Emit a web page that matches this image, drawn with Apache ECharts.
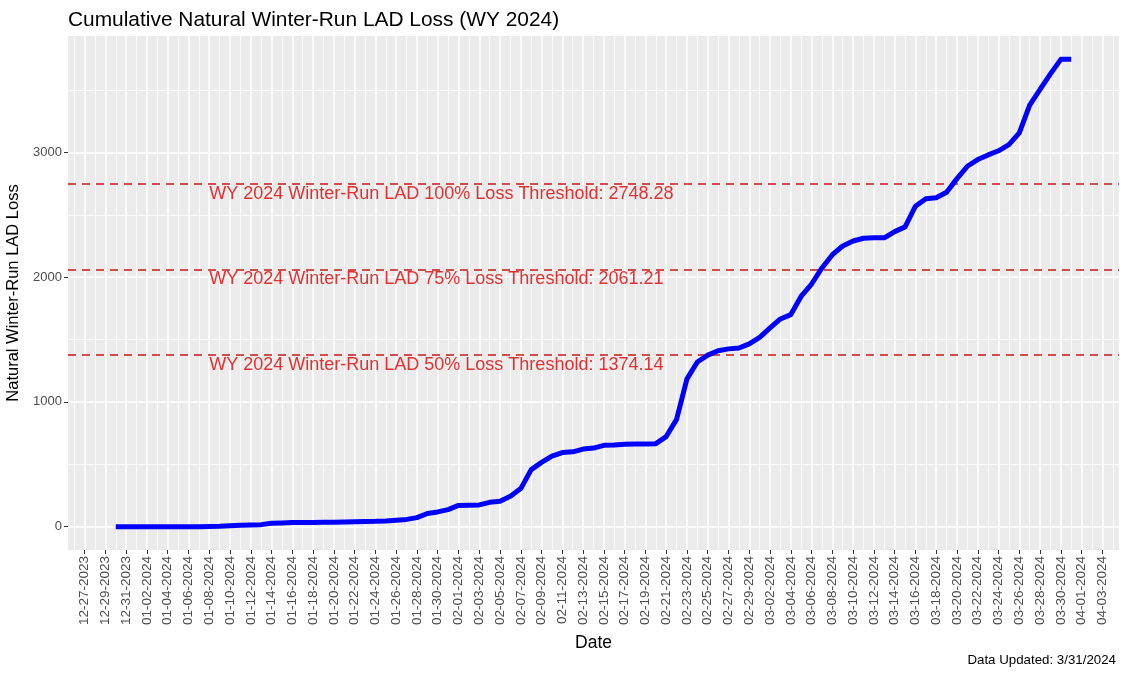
<!DOCTYPE html>
<html>
<head>
<meta charset="utf-8">
<script src="https://cdn.jsdelivr.net/npm/echarts@6/dist/echarts.min.js"></script>
<style>
html,body{margin:0;padding:0;background:#fff;}
#chart{width:1125px;height:673px;}
</style>
</head>
<body>
<div id="chart"></div>
<script>
// ---- data ----
const dates = [
  '12-30-2023','12-31-2023',
  '01-01-2024','01-02-2024','01-03-2024','01-04-2024','01-05-2024','01-06-2024','01-07-2024','01-08-2024','01-09-2024','01-10-2024',
  '01-11-2024','01-12-2024','01-13-2024','01-14-2024','01-15-2024','01-16-2024','01-17-2024','01-18-2024','01-19-2024','01-20-2024',
  '01-21-2024','01-22-2024','01-23-2024','01-24-2024','01-25-2024','01-26-2024','01-27-2024','01-28-2024','01-29-2024','01-30-2024','01-31-2024',
  '02-01-2024','02-02-2024','02-03-2024','02-04-2024','02-05-2024','02-06-2024','02-07-2024','02-08-2024','02-09-2024','02-10-2024',
  '02-11-2024','02-12-2024','02-13-2024','02-14-2024','02-15-2024','02-16-2024','02-17-2024','02-18-2024','02-19-2024','02-20-2024',
  '02-21-2024','02-22-2024','02-23-2024','02-24-2024','02-25-2024','02-26-2024','02-27-2024','02-28-2024','02-29-2024',
  '03-01-2024','03-02-2024','03-03-2024','03-04-2024','03-05-2024','03-06-2024','03-07-2024','03-08-2024','03-09-2024','03-10-2024',
  '03-11-2024','03-12-2024','03-13-2024','03-14-2024','03-15-2024','03-16-2024','03-17-2024','03-18-2024','03-19-2024','03-20-2024',
  '03-21-2024','03-22-2024','03-23-2024','03-24-2024','03-25-2024','03-26-2024','03-27-2024','03-28-2024','03-29-2024','03-30-2024','03-31-2024'
];
const cumulativeLoss = [
  0,0,
  0,0,0,0,0,0,0,2,3,8,
  12,14,16,27,30,33,34,34,35,36,
  38,40,42,43,46,52,58,72,105,118,136,
  170,172,174,195,203,243,305,457,515,565,
  594,600,622,630,652,655,660,663,663,665,
  722,860,1185,1320,1375,1410,1425,1432,1465,
  1518,1593,1665,1700,1847,1945,2074,2180,2250,2290,
  2312,2315,2315,2365,2403,2569,2628,2636,2681,2790,
  2889,2943,2980,3013,3063,3157,3380,3505,3630,3746,3746
];
const thresholdLabels = ['100%','75%','50%'];
const thresholdValues = [2748.28, 2061.21, 1374.14];
const thresholdLabelDate = '01-08-2024';
const xTickStart = '12-27-2023';
const xTickEnd = '04-03-2024';
const yTicks = [0, 1000, 2000, 3000];
const yMinorTicks = [500, 1500, 2500, 3500];

// ---- helpers ----
function parseDate(s){ const p = s.split('-'); return Date.UTC(+p[2], +p[0]-1, +p[1]); }
const DAY = 86400000;
const origin = parseDate(xTickStart);
function toDay(s){ return Math.round((parseDate(s) - origin) / DAY); }
function fmtDay(d){
  const t = new Date(origin + d*DAY);
  const mm = String(t.getUTCMonth()+1).padStart(2,'0');
  const dd = String(t.getUTCDate()).padStart(2,'0');
  return mm + '-' + dd + '-' + t.getUTCFullYear();
}
const seriesData = dates.map((s,i)=>[toDay(s), cumulativeLoss[i]]);
const xFirst = seriesData[0][0], xLast = seriesData[seriesData.length-1][0];
const xPad = (xLast - xFirst) * 0.05;
const yMaxData = Math.max(...cumulativeLoss);
const yPad = yMaxData * 0.05;
const lastTick = toDay(xTickEnd);
const xMajor = [], xMinor = [];
for (let d = 0; d <= lastTick; d += 2) xMajor.push(d);
for (let d = -1; d <= lastTick + 1; d += 2) if (d > xFirst - xPad && d < xLast + xPad) xMinor.push(d);

const FONT = 'Liberation Sans, Arial, sans-serif';
const grid = {left: 68, top: 36, right: 6, bottom: 123, show: true, backgroundColor: '#EBEBEB',
              borderWidth: 0, containLabel: false, outerBoundsMode: 'none'};
const xMin = xFirst - xPad, xMax = xLast + xPad;
const yMin = -yPad, yMax = yMaxData + yPad;

const labelDay = toDay(thresholdLabelDate);
const thresholdTextSeries = {
  type: 'scatter', symbolSize: 0, silent: true, z: 4,
  xAxisIndex: 0, yAxisIndex: 0,
  data: thresholdValues.map((v,i)=>({
    value: [labelDay, v],
    label: {
      show: true, position: 'inside', align: 'left', verticalAlign: 'top', offset: [0, 1],
      formatter: 'WY 2024 Winter-Run LAD ' + thresholdLabels[i] + ' Loss Threshold: ' + v.toFixed(2),
      color: '#E00000', fontSize: 18, fontFamily: FONT
    }
  }))
};

const option = {
  animation: false,
  textStyle: {fontFamily: FONT},
  title: [
    {text: 'Cumulative Natural Winter-Run LAD Loss (WY 2024)', left: 63, top: 5,
     textStyle: {fontSize: 20.9, fontWeight: 'normal', color: '#000', fontFamily: FONT}},
    {text: 'Data Updated: 3/31/2024', right: 4, bottom: 1,
     textStyle: {fontSize: 13.3, fontWeight: 'normal', color: '#000', fontFamily: FONT}}
  ],
  grid: grid,
  xAxis: [
    {
      type: 'value', min: xMin, max: xMax,
      name: 'Date', nameLocation: 'middle', nameGap: 84,
      nameTextStyle: {fontSize: 17.5, color: '#000', fontFamily: FONT},
      axisLine: {show: false, onZero: false},
      axisTick: {show: true, length: 4, customValues: xMajor, lineStyle: {color: '#333', width: 1}},
      axisLabel: {show: true, rotate: 90, margin: 6, customValues: xMajor, color: '#4D4D4D', fontSize: 13.5,
                  fontFamily: FONT, formatter: v => fmtDay(v)},
      splitLine: {show: true, lineStyle: {color: '#FFFFFF', width: 1.6}}
    },
    {
      type: 'value', min: xMin, max: xMax, position: 'bottom',
      axisLine: {show: false, onZero: false},
      axisTick: {show: false, customValues: xMinor},
      axisLabel: {show: false, customValues: xMinor},
      splitLine: {show: true, lineStyle: {color: '#FFFFFF', width: 0.8}}
    }
  ],
  yAxis: [
    {
      type: 'value', min: yMin, max: yMax,
      name: 'Natural Winter-Run LAD Loss', nameLocation: 'middle', nameGap: 42, nameRotate: 90,
      nameTextStyle: {fontSize: 16.5, color: '#000', fontFamily: FONT},
      axisLine: {show: false, onZero: false},
      axisTick: {show: true, length: 4, customValues: yTicks, lineStyle: {color: '#333', width: 1}},
      axisLabel: {show: true, margin: 6, customValues: yTicks, color: '#4D4D4D', fontSize: 13, fontFamily: FONT,
                  formatter: v => String(v)},
      splitLine: {show: true, lineStyle: {color: '#FFFFFF', width: 1.6}}
    },
    {
      type: 'value', min: yMin, max: yMax, position: 'left',
      axisLine: {show: false, onZero: false},
      axisTick: {show: false, customValues: yMinorTicks},
      axisLabel: {show: false, customValues: yMinorTicks},
      splitLine: {show: true, lineStyle: {color: '#FFFFFF', width: 0.8}}
    }
  ],
  series: [
    {
      type: 'line', data: seriesData, xAxisIndex: 0, yAxisIndex: 0,
      showSymbol: false, symbol: 'none', smooth: false, z: 3,
      lineStyle: {color: '#0000FF', width: 5, join: 'round', cap: 'butt'},
      markLine: {
        silent: true, symbol: 'none', z: 2,
        label: {show: false},
        lineStyle: {color: '#C81A1A', width: 1.5, type: [8, 6]},
        data: thresholdValues.map(v => ({yAxis: v}))
      }
    },
    thresholdTextSeries
  ]
};
const chart = echarts.init(document.getElementById('chart'), null, {renderer: 'canvas'});
chart.setOption(option);
</script>
</body>
</html>
